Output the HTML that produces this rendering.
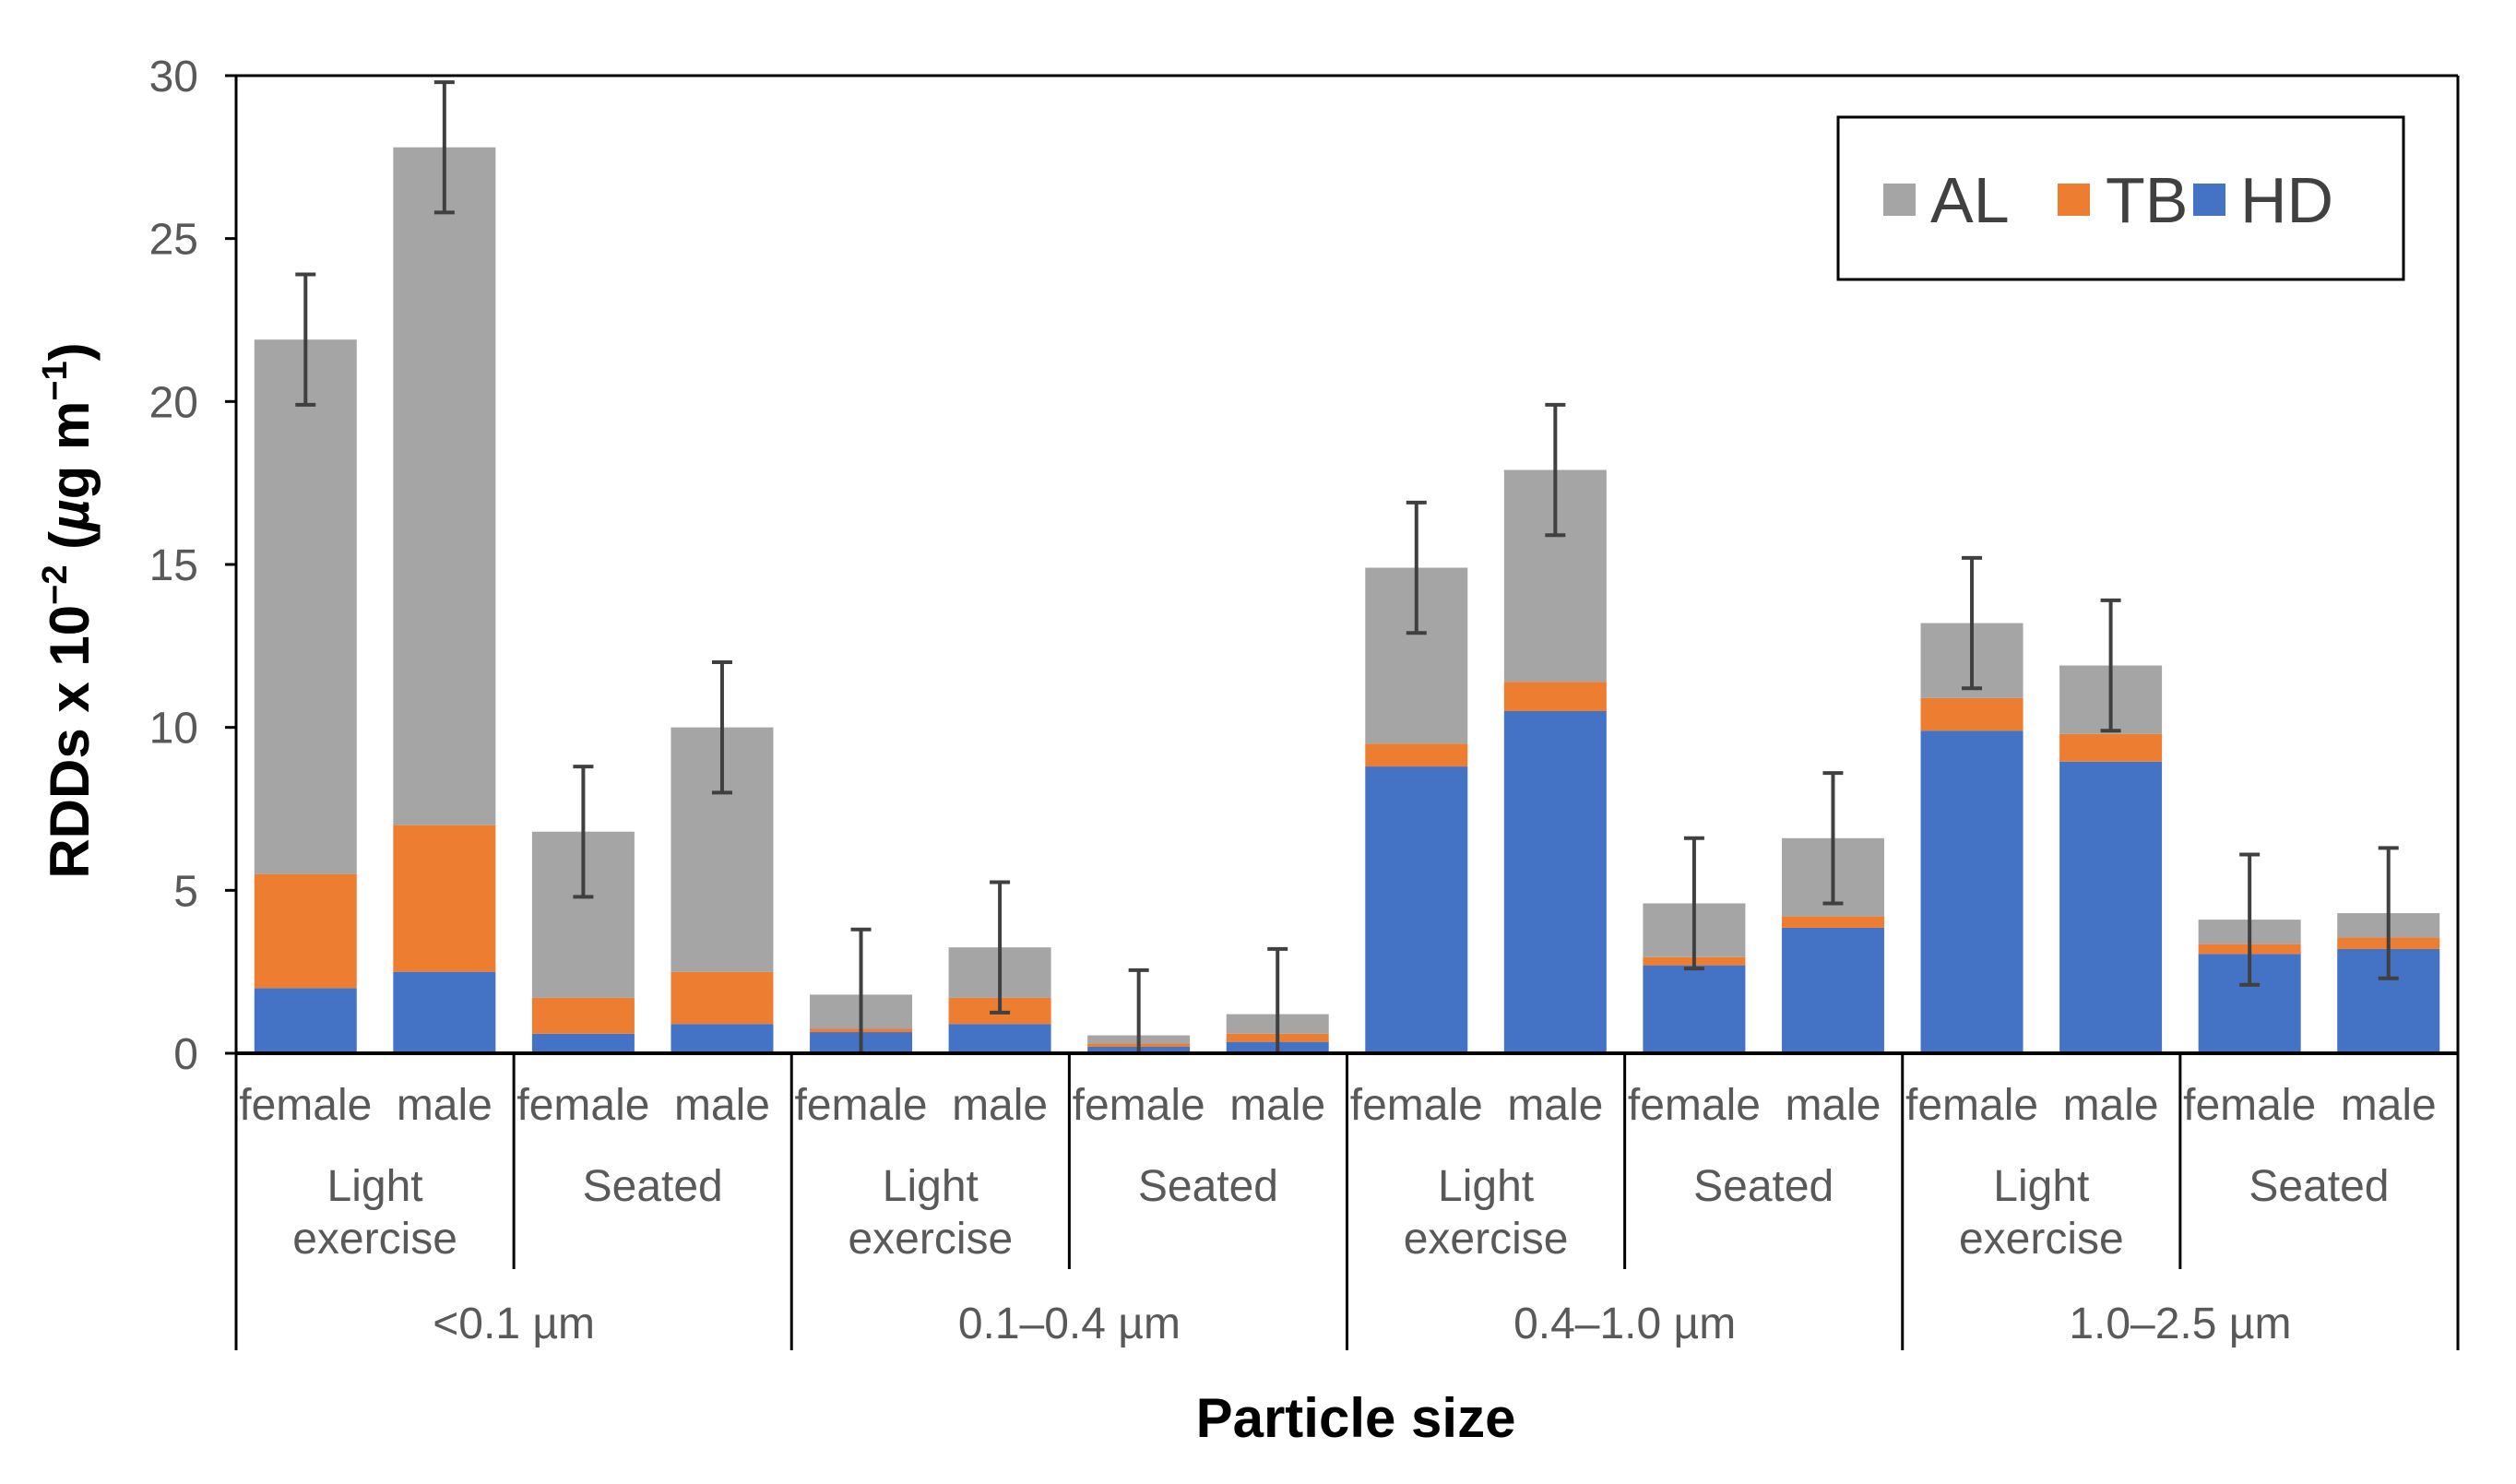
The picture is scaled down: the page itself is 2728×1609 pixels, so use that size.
<!DOCTYPE html>
<html><head><meta charset="utf-8"><style>
body{margin:0;background:#fff;}
svg{display:block;font-family:"Liberation Sans",Arial,sans-serif;}
</style></head><body>
<svg id="chart" width="2728" height="1609" viewBox="0 0 2728 1609" xmlns="http://www.w3.org/2000/svg">
<rect x="0" y="0" width="2728" height="1609" fill="#fff"/>
<g id="grid"></g>
<g id="bars"></g>
<g id="errs"></g>
<g id="axes"></g>
<g id="labels"></g>
<text x="1470" y="1558" font-size="60" font-weight="bold" text-anchor="middle" fill="#000">Particle size</text>
<text transform="translate(96,662) rotate(-90)" font-size="60" font-weight="bold" text-anchor="middle" fill="#000">RDDs x 10<tspan dy="-24" font-size="38">−2</tspan><tspan dy="24"> (</tspan><tspan font-style="italic">µ</tspan>g m<tspan dy="-24" font-size="38">−1</tspan><tspan dy="24">)</tspan></text>
<g>
<rect x="1993" y="127" width="613" height="176" fill="#fff" stroke="#000" stroke-width="3"/>
<g><rect x="2042" y="199" width="35" height="35" fill="#A5A5A5"/><text x="2093" y="241" font-size="70" fill="#404040">AL</text></g>
<g><rect x="2231" y="199" width="35" height="35" fill="#ED7D31"/><text x="2283" y="241" font-size="70" fill="#404040">TB</text></g>
<g><rect x="2378" y="199" width="35" height="35" fill="#4472C4"/><text x="2429" y="241" font-size="70" fill="#404040">HD</text></g>
</g>
</svg>
<script>
const sexes = ["female","male","female","male","female","male","female","male","female","male","female","male","female","male","female","male"];
const activities = ["Light|exercise","Seated","Light|exercise","Seated","Light|exercise","Seated","Light|exercise","Seated"];
const sizes = ["<0.1 µm","0.1–0.4 µm","0.4–1.0 µm","1.0–2.5 µm"];
const hdValues = [2.0,2.5,0.6,0.9,0.65,0.9,0.2,0.35,8.8,10.5,2.7,3.85,9.9,8.95,3.05,3.2];
const tbValues = [3.5,4.5,1.1,1.6,0.1,0.8,0.1,0.25,0.7,0.9,0.25,0.35,1.0,0.85,0.3,0.35];
const alValues = [16.4,20.8,5.1,7.5,1.05,1.55,0.25,0.6,5.4,6.5,1.65,2.4,2.3,2.1,0.75,0.75];
const errValues = [2,2,2,2,2,2,2,2,2,2,2,2,2,2,2,2];
const yTicks = [0,5,10,15,20,25,30];

const NS="http://www.w3.org/2000/svg";
const L=256,R=2665,T=82,B=1142,YMAX=30;
const slot=(R-L)/sexes.length, bw=111;
const y=v=>B-v/YMAX*(B-T);
const xc=i=>L+slot*(i+0.5);
function mk(tag,attrs,parent){const e=document.createElementNS(NS,tag);for(const k in attrs)e.setAttribute(k,attrs[k]);document.getElementById(parent).appendChild(e);return e;}

for(let i=0;i<sexes.length;i++){
  const segs=[[hdValues[i],"#4472C4","hd"],[tbValues[i],"#ED7D31","tb"],[alValues[i],"#A5A5A5","al"]];
  let base=0;
  for(const [v,c,n] of segs){
    const r=mk("rect",{x:xc(i)-bw/2,y:y(base+v),width:bw,height:y(base)-y(base+v),fill:c},"bars");
    
    
    base+=v;
  }
  const hi=base+errValues[i], lo=Math.max(0,base-errValues[i]);
  const g=mk("g",{stroke:"#404040","stroke-width":4},"errs");
  
  
  const x=xc(i);
  [[x,y(hi),x,y(lo)],[x-11,y(hi),x+11,y(hi)],[x-11,y(lo),x+11,y(lo)]].forEach(p=>{
    const l=document.createElementNS(NS,"line");l.setAttribute("x1",p[0]);l.setAttribute("y1",p[1]);l.setAttribute("x2",p[2]);l.setAttribute("y2",p[3]);g.appendChild(l);});
  const t=mk("text",{x:x,y:1214,"font-size":48,"text-anchor":"middle",fill:"#595959"},"labels");
  t.textContent=sexes[i];
  
  
}
for(const v of yTicks){
  const t=mk("text",{x:215,y:y(v)+17,"font-size":48,"text-anchor":"end",fill:"#595959"},"labels");
  t.textContent=v;
  
  
  const tk=mk("line",{x1:244,x2:L,y1:y(v),y2:y(v),stroke:"#000","stroke-width":3},"axes");
  
  
}
[[L,T,R,T],[R,T,R,B],[L,T,L,B],[L,B,R,B]].forEach((p,k)=>{
  const l=mk("line",{x1:p[0],y1:p[1],x2:p[2],y2:p[3],stroke:"#000","stroke-width":k==3?4:3},"axes");
  
  
});
for(let j=0;j<activities.length;j++){
  const cx=L+slot*(2*j+1);
  const parts=activities[j].split("|");
  const t=mk("text",{x:cx,y:1302,"font-size":48,"text-anchor":"middle",fill:"#595959"},"labels");
  
  
  parts.forEach((p,k)=>{const s=document.createElementNS(NS,"tspan");s.setAttribute("x",cx);if(k)s.setAttribute("dy",57);s.textContent=p;t.appendChild(s);});
}
for(let j=0;j<=activities.length;j++){
  const x=L+slot*2*j;
  const isGroup=j%2==0;
  const l=mk("line",{x1:x,x2:x,y1:B,y2:isGroup?1464:1376,stroke:"#000","stroke-width":3},"axes");
  
  
}
for(let g=0;g<sizes.length;g++){
  const t=mk("text",{x:L+slot*(4*g+2),y:1451,"font-size":48,"text-anchor":"middle",fill:"#595959"},"labels");
  t.textContent=sizes[g];
  
  
}
</script>
</body></html>
